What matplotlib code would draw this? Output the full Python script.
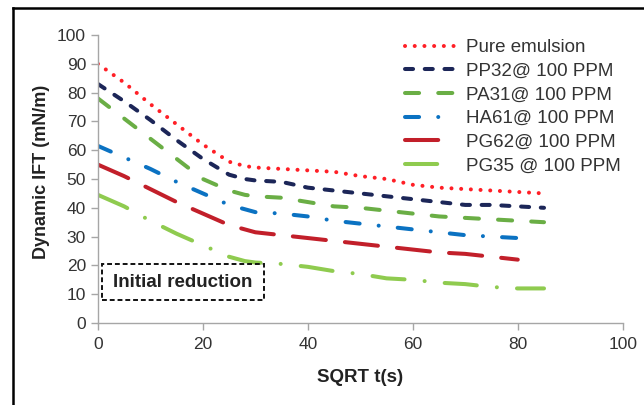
import matplotlib.pyplot as plt
from matplotlib.lines import Line2D
from matplotlib.patches import Rectangle

plt.rcParams['font.family'] = ['Liberation Sans', 'DejaVu Sans']

# sqrt(t) sample points and dynamic IFT readings (mN/m)
sqrt_t = [0, 5, 10, 15, 20, 25, 28, 30, 35, 40, 45, 50, 55, 60, 65, 70, 75, 80, 85]

pure_emulsion = [90, 83.5, 76, 69, 62, 56, 54.5, 54, 53.5, 53, 52.5, 51, 50, 48, 47, 46.5, 46, 45.5, 45]
pp32 = [83, 77, 70.5, 63.5, 57, 51.5, 50, 49.5, 49, 47, 46, 45, 44, 43, 42, 41, 41, 40.5, 40]
pa31 = [78, 71, 64, 57, 50, 46, 44.5, 44, 43.5, 42, 40.5, 40, 39, 38, 37, 36.5, 36, 35.5, 35]
ha61 = [61.5, 57.5, 53.5, 49, 45, 41, 39.5, 38.5, 38, 37, 35.5, 34.5, 33.5, 32.5, 31.5, 30.5, 30, 29.5, 29]
pg62 = [55, 51, 46.5, 42, 38, 34, 32.5, 31.5, 30.5, 29.5, 28.5, 27.5, 26.5, 25.5, 24.5, 24, 23, 22, 22]
pg35 = [44.5, 40.5, 35.5, 31, 27, 23, 21.5, 21, 20.5, 19.5, 18, 17, 15.5, 15, 14, 13.5, 12.5, 12, 12]

labels = ['Pure emulsion', 'PP32@ 100 PPM', 'PA31@ 100 PPM',
          'HA61@ 100 PPM', 'PG62@ 100 PPM', 'PG35 @ 100 PPM']
series = [pure_emulsion, pp32, pa31, ha61, pg62, pg35]
x_last = [85, 85, 85, 83, 83, 85]

colors = ['#ff1f26', '#1c2658', '#6aae45', '#0b72c2', '#c21f2a', '#8fcb4f']
# dash patterns in units of line width
dashes = [(0.01, 2.4), (2.0, 2.9), (3.5, 4.75), (3.5, 4.75, 0.01, 4.75),
          (8.25, 4.75), (8.0, 5.0, 0.01, 5.0)]

fig = plt.figure(figsize=(6.44, 4.05), dpi=100)
ax = fig.add_axes([0.152, 0.2025, 0.815, 0.711])

for ys, lab, col, dsh, xe in zip(series, labels, colors, dashes, x_last):
    xs = [x for x in sqrt_t if x <= xe]
    ax.plot(xs, ys[:len(xs)], color=col, lw=2.9, dashes=dsh,
            dash_capstyle='round', label=lab)

ax.set_xlim(0, 100)
ax.set_ylim(0, 100)
ax.set_xticks(range(0, 101, 20))
ax.set_yticks(range(0, 101, 10))
for side in ['top', 'right']:
    ax.spines[side].set_visible(False)
for side in ['left', 'bottom']:
    ax.spines[side].set_color('#a6a6a6')
    ax.spines[side].set_linewidth(1.0)
ax.tick_params(colors='#a6a6a6', labelcolor='#333333', labelsize=12.5,
               length=5, width=1.0)
ax.tick_params(axis='x', pad=5)

ax.set_xlabel('SQRT t(s)', fontsize=13.5, fontweight='bold', color='#222222', labelpad=12)
ax.set_ylabel('Dynamic IFT (mN/m)', fontsize=13, fontweight='bold', color='#222222')
ax.yaxis.set_label_coords(-0.092, 0.525)

ax.legend(loc='upper left', bbox_to_anchor=(0.585, 0.986), frameon=False,
          fontsize=13.5, handlelength=2.6, handletextpad=0.64, labelspacing=0.35,
          borderpad=0, borderaxespad=0, labelcolor='#333333')

# dashed box with the annotation
ax.add_patch(Rectangle((0.76, 8.0), 30.84, 12.5, fill=False, edgecolor='#111111',
                       linestyle=(0, (2.5, 1.5)), linewidth=1.4, zorder=5))
ax.text(16.2, 14.2, 'Initial reduction', fontsize=13.5, fontweight='bold',
        color='#222222', ha='center', va='center', zorder=6)

# frame lines along the left and top edges
fig.add_artist(Line2D([13 / 644, 13 / 644], [0, 1 - 8 / 405], color='black', lw=1.8))
fig.add_artist(Line2D([13 / 644, 1], [1 - 8 / 405, 1 - 8 / 405], color='black', lw=1.8))

fig.savefig('out.png', dpi=100)
